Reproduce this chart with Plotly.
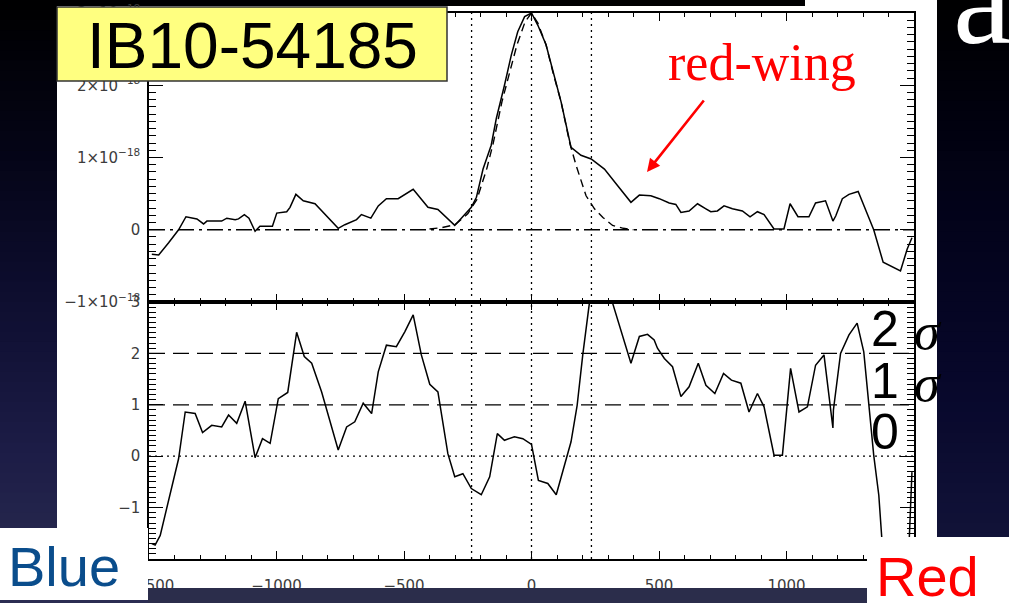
import plotly.graph_objects as go

W, H = 1009, 603

# ---------------- data ----------------
# top panel: line flux (units of 1e-18) vs velocity (km/s)
vel_flux = [-1489,-1462,-1423,-1384,-1355,-1312,-1286,-1273,-1215,-1195,-1162,-1149,-1126,-1108,-1084,-1065,
            -1016,-999,-960,-947,-924,-895,-849,-758,-732,-686,-667,-630,-601,-569,-523,-497,-464,-406,-367,
            -301,-282,-236,-216,-190,-158,-138,-106,-79,-54,-27,0,25,57,84,116,155,194,234,286,338,390,423,
            468,501,540,566,586,618,651,684,703,729,755,788,827,857,886,912,951,990,1014,1045,1088,1114,1153,
            1182,1193,1219,1245,1281,1342,1379,1408,1447,1473,1492]
flux = [-0.34,-0.35,-0.18,0.0,0.18,0.15,0.08,0.12,0.12,0.16,0.14,0.15,0.21,0.16,-0.02,0.05,
        0.05,0.23,0.25,0.31,0.49,0.40,0.36,0.02,0.07,0.14,0.21,0.16,0.33,0.43,0.43,0.49,0.56,0.31,0.28,
        0.06,0.13,0.31,0.45,0.84,1.17,1.54,2.0,2.42,2.74,2.95,3.0,2.83,2.56,2.18,1.77,1.14,1.03,0.98,0.84,
        0.61,0.38,0.48,0.47,0.43,0.37,0.35,0.24,0.26,0.36,0.29,0.25,0.26,0.33,0.29,0.26,0.18,0.25,0.21,
        0.01,0.01,0.36,0.18,0.18,0.37,0.40,0.12,0.19,0.43,0.49,0.53,0.0,-0.45,-0.5,-0.57,-0.27,-0.11]

# top panel: gaussian fit (dashed)
vel_fit = [-400,-350,-300,-250,-214,-175,-150,-116,-84,-57,-25,0,25,57,84,116,150,175,214,247,280,318,360,400]
fit = [0.01,0.03,0.07,0.22,0.42,0.85,1.2,1.77,2.2,2.56,2.88,3.0,2.86,2.56,2.18,1.77,1.2,0.89,0.47,0.29,
       0.17,0.06,0.02,0.0]

# bottom panel: significance (sigma) vs velocity
vel_sig = [-1489,-1476,-1456,-1423,-1384,-1358,-1319,-1290,-1254,-1215,-1188,-1156,-1123,-1084,-1055,-1025,
           -993,-956,-921,-891,-862,-823,-758,-725,-693,-660,-627,-601,-569,-530,-497,-464,-432,-399,-367,
           -328,-301,-269,-236,-197,-164,-134,-106,-67,-34,0,27,64,97,155,179,201,227,265,318,390,423,455,
           481,494,521,553,586,618,654,684,719,753,784,821,853,886,912,951,984,1016,1049,1082,1114,1147,
           1173,1182,1184,1212,1245,1277,1303,1330,1342,1362,1371,1385,1475,1492]
sig = [-1.70,-1.73,-1.54,-0.83,-0.05,0.86,0.83,0.46,0.60,0.57,0.80,0.64,1.07,-0.03,0.34,0.25,
       1.12,1.24,2.41,1.94,1.81,1.25,0.12,0.57,0.67,1.03,0.83,1.64,2.16,2.13,2.42,2.75,1.97,1.40,1.25,
       0.05,-0.40,-0.34,-0.63,-0.75,-0.40,0.44,0.31,0.38,0.34,0.23,-0.47,-0.53,-0.75,0.28,0.99,1.97,
       2.98,3.3,2.98,1.81,2.33,2.37,2.26,2.10,1.90,1.74,1.16,1.35,1.81,1.38,1.22,1.61,1.48,1.42,0.86,
       1.22,0.96,0.02,0.02,1.71,0.86,0.96,1.77,1.97,0.93,0.55,0.90,2.0,2.36,2.59,2.03,0.70,0.02,-0.76,
       -1.54,-2.4,-2.4,-0.31]

vel_marks = [-235, 0, 235]          # vertical dotted lines
sigma_levels = [1, 2]               # dashed significance levels
x_range = [-1500, 1500]
x_ticks = [-1500, -1000, -500, 0, 500, 1000, 1500]
x_ticktext = ["\u22121500", "\u22121000", "\u2212500", "0", "500", "1000", "1500"]
y1_ticks = [-1, 0, 1, 2, 3]
y1_ticktext = ["\u22121\u00d710<sup>\u221218</sup>", "0", "1\u00d710<sup>\u221218</sup>",
               "2\u00d710<sup>\u221218</sup>", "3\u00d710<sup>\u221218</sup>"]
y2_ticks = [-2, -1, 0, 1, 2, 3]
y2_ticktext = ["\u22122", "\u22121", "0", "1", "2", "3"]

# ---------------- geometry helpers ----------------
def px(x):
    return x / W

def py(y):
    return 1 - y / H

X0, X1 = 149, 914
TOP0, TOP1 = 13, 302
BOT0, BOT1 = 302, 559

fig = go.Figure()

LINE = dict(color="black", width=1.5)
fig.add_trace(go.Scatter(x=vel_flux, y=flux, mode="lines", line=LINE, xaxis="x", yaxis="y"))
fig.add_trace(go.Scatter(x=vel_fit, y=fit, mode="lines",
                         line=dict(color="black", width=1.4, dash="8px,5px"), xaxis="x", yaxis="y"))
fig.add_trace(go.Scatter(x=x_range, y=[0, 0], mode="lines",
                         line=dict(color="black", width=1.3, dash="16px,5px,3px,5px"), xaxis="x", yaxis="y"))
for v in vel_marks:
    fig.add_trace(go.Scatter(x=[v, v], y=[-1, 3], mode="lines",
                             line=dict(color="black", width=1.3, dash="2px,4px"), xaxis="x", yaxis="y"))
    fig.add_trace(go.Scatter(x=[v, v], y=[-2, 3], mode="lines",
                             line=dict(color="black", width=1.3, dash="2px,4px"), xaxis="x2", yaxis="y2"))
for s in sigma_levels:
    fig.add_trace(go.Scatter(x=x_range, y=[s, s], mode="lines",
                             line=dict(color="black", width=1.3, dash="16px,8px"), xaxis="x2", yaxis="y2"))
fig.add_trace(go.Scatter(x=x_range, y=[0, 0], mode="lines",
                         line=dict(color="black", width=1.3, dash="2px,4px"), xaxis="x2", yaxis="y2"))
fig.add_trace(go.Scatter(x=vel_sig, y=sig, mode="lines", line=LINE, xaxis="x2", yaxis="y2"))

TICKFONT = dict(family="DejaVu Sans", size=15, color="#3c3c3c")
xcommon = dict(range=x_range, showline=True, linecolor="black", linewidth=1.5, mirror="ticks",
               ticks="inside", ticklen=8, tickwidth=1.2, tickcolor="black", automargin=False,
               tickvals=x_ticks, ticktext=x_ticktext, showgrid=False, zeroline=False,
               minor=dict(dtick=100, tick0=0, ticks="inside", ticklen=4, tickwidth=1.1, tickcolor="black",
                          showgrid=False),
               domain=[px(X0), px(X1)], tickfont=TICKFONT)
ycommon = dict(showline=True, linecolor="black", linewidth=1.5, mirror="ticks", automargin=False,
               ticks="inside", ticklen=14, tickwidth=1.2, tickcolor="black", showgrid=False, zeroline=False,
               minor=dict(dtick=0.1, tick0=0, ticks="inside", ticklen=7, tickwidth=1.1, tickcolor="black",
                          showgrid=False),
               tickfont=TICKFONT, ticklabelstandoff=4)

fig.update_layout(
    width=W, height=H, autosize=False, margin=dict(l=0, r=0, t=0, b=0, pad=0, autoexpand=False),
    paper_bgcolor="#000000", plot_bgcolor="rgba(0,0,0,0)", showlegend=False,
    xaxis=dict(xcommon, anchor="y", showticklabels=False),
    xaxis2=dict(xcommon, anchor="y2", showticklabels=True, ticklabelstandoff=12, matches="x"),
    yaxis=dict(ycommon, anchor="x", range=[-1, 3], domain=[py(TOP1), py(TOP0)],
               tickvals=y1_ticks, ticktext=y1_ticktext),
    yaxis2=dict(ycommon, anchor="x2", range=[-2, 3], domain=[py(BOT1), py(BOT0)],
                tickvals=y2_ticks, ticktext=y2_ticktext),
)

# ---------------- slide background (gradient) ----------------
def lerp_color(stops, y):
    for (ya, ca), (yb, cb) in zip(stops, stops[1:]):
        if ya <= y <= yb:
            t = (y - ya) / (yb - ya)
            return "rgb(%d,%d,%d)" % tuple(round(a + (b - a) * t) for a, b in zip(ca, cb))
    return "rgb(%d,%d,%d)" % stops[-1][1]

left_stops = [(0, (0, 0, 0)), (150, (4, 4, 22)), (300, (14, 14, 48)), (450, (28, 28, 70)), (603, (44, 46, 82))]
right_stops = [(0, (0, 0, 0)), (200, (2, 2, 24)), (400, (8, 8, 44)), (603, (22, 24, 62))]
shapes = []
N = 60
for i in range(N):
    y0 = i * H / N
    y1 = min(H, (i + 1) * H / N + 2)
    ym = (i + 0.5) * H / N
    shapes.append(dict(type="rect", xref="paper", yref="paper", x0=0, x1=0.5, y0=py(y1), y1=py(y0),
                       fillcolor=lerp_color(left_stops, ym), line=dict(width=0), layer="below"))
    shapes.append(dict(type="rect", xref="paper", yref="paper", x0=0.5, x1=1, y0=py(y1), y1=py(y0),
                       fillcolor=lerp_color(right_stops, ym), line=dict(width=0), layer="below"))

def rect(x0, y0, x1, y1, fill, layer="below", line=None):
    return dict(type="rect", xref="paper", yref="paper", x0=px(x0), x1=px(x1), y0=py(y1), y1=py(y0),
                fillcolor=fill, line=line or dict(width=0), layer=layer)

shapes.append(rect(57, 6, 937, 588, "white"))
shapes.append(rect(805, 0, 937, 6, "white"))
shapes.append(rect(148, 588, 867, 603, "#2b2d4b", layer="above"))
shapes.append(rect(0, 528, 148, 600, "white", layer="above"))
shapes.append(rect(867, 537, 1009, 603, "white", layer="above"))
shapes.append(rect(57, 7, 447, 81, "#ffff80", layer="above", line=dict(color="#333333", width=1.5)))
fig.update_layout(shapes=shapes)

# ---------------- annotations ----------------
ann = []
def text(x, y, s, size, color="black", family="Liberation Sans", xanchor="center", yanchor="middle"):
    ann.append(dict(x=px(x), y=py(y), xref="paper", yref="paper", text=s, showarrow=False,
                    font=dict(family=family, size=size, color=color), xanchor=xanchor, yanchor=yanchor))

text(252, 46, "IB10-54185", 64)
text(762, 63, "red-wing", 52, color="#ff0000", family="Liberation Serif")
ann.append(dict(x=px(647), y=py(172), xref="paper", yref="paper", ax=58, ay=-73, text="",
                showarrow=True, arrowhead=2, arrowsize=1, arrowwidth=2.6, arrowcolor="#ff0000"))
text(885, 329, "2", 50)
text(885, 381, "1", 50)
text(885, 432, "0", 50)
text(928, 331, "<i>\u03c3</i>", 52, family="Liberation Serif")
text(928, 383, "<i>\u03c3</i>", 52, family="Liberation Serif")
text(64, 566, "Blue", 56, color="#0a4d8c")
text(927, 576, "Red", 56, color="#ff0000")
text(951, 74, "a", 132, color="white", family="Liberation Serif", xanchor="left", yanchor="bottom")
fig.update_layout(annotations=ann)

fig.write_html("out.html")
